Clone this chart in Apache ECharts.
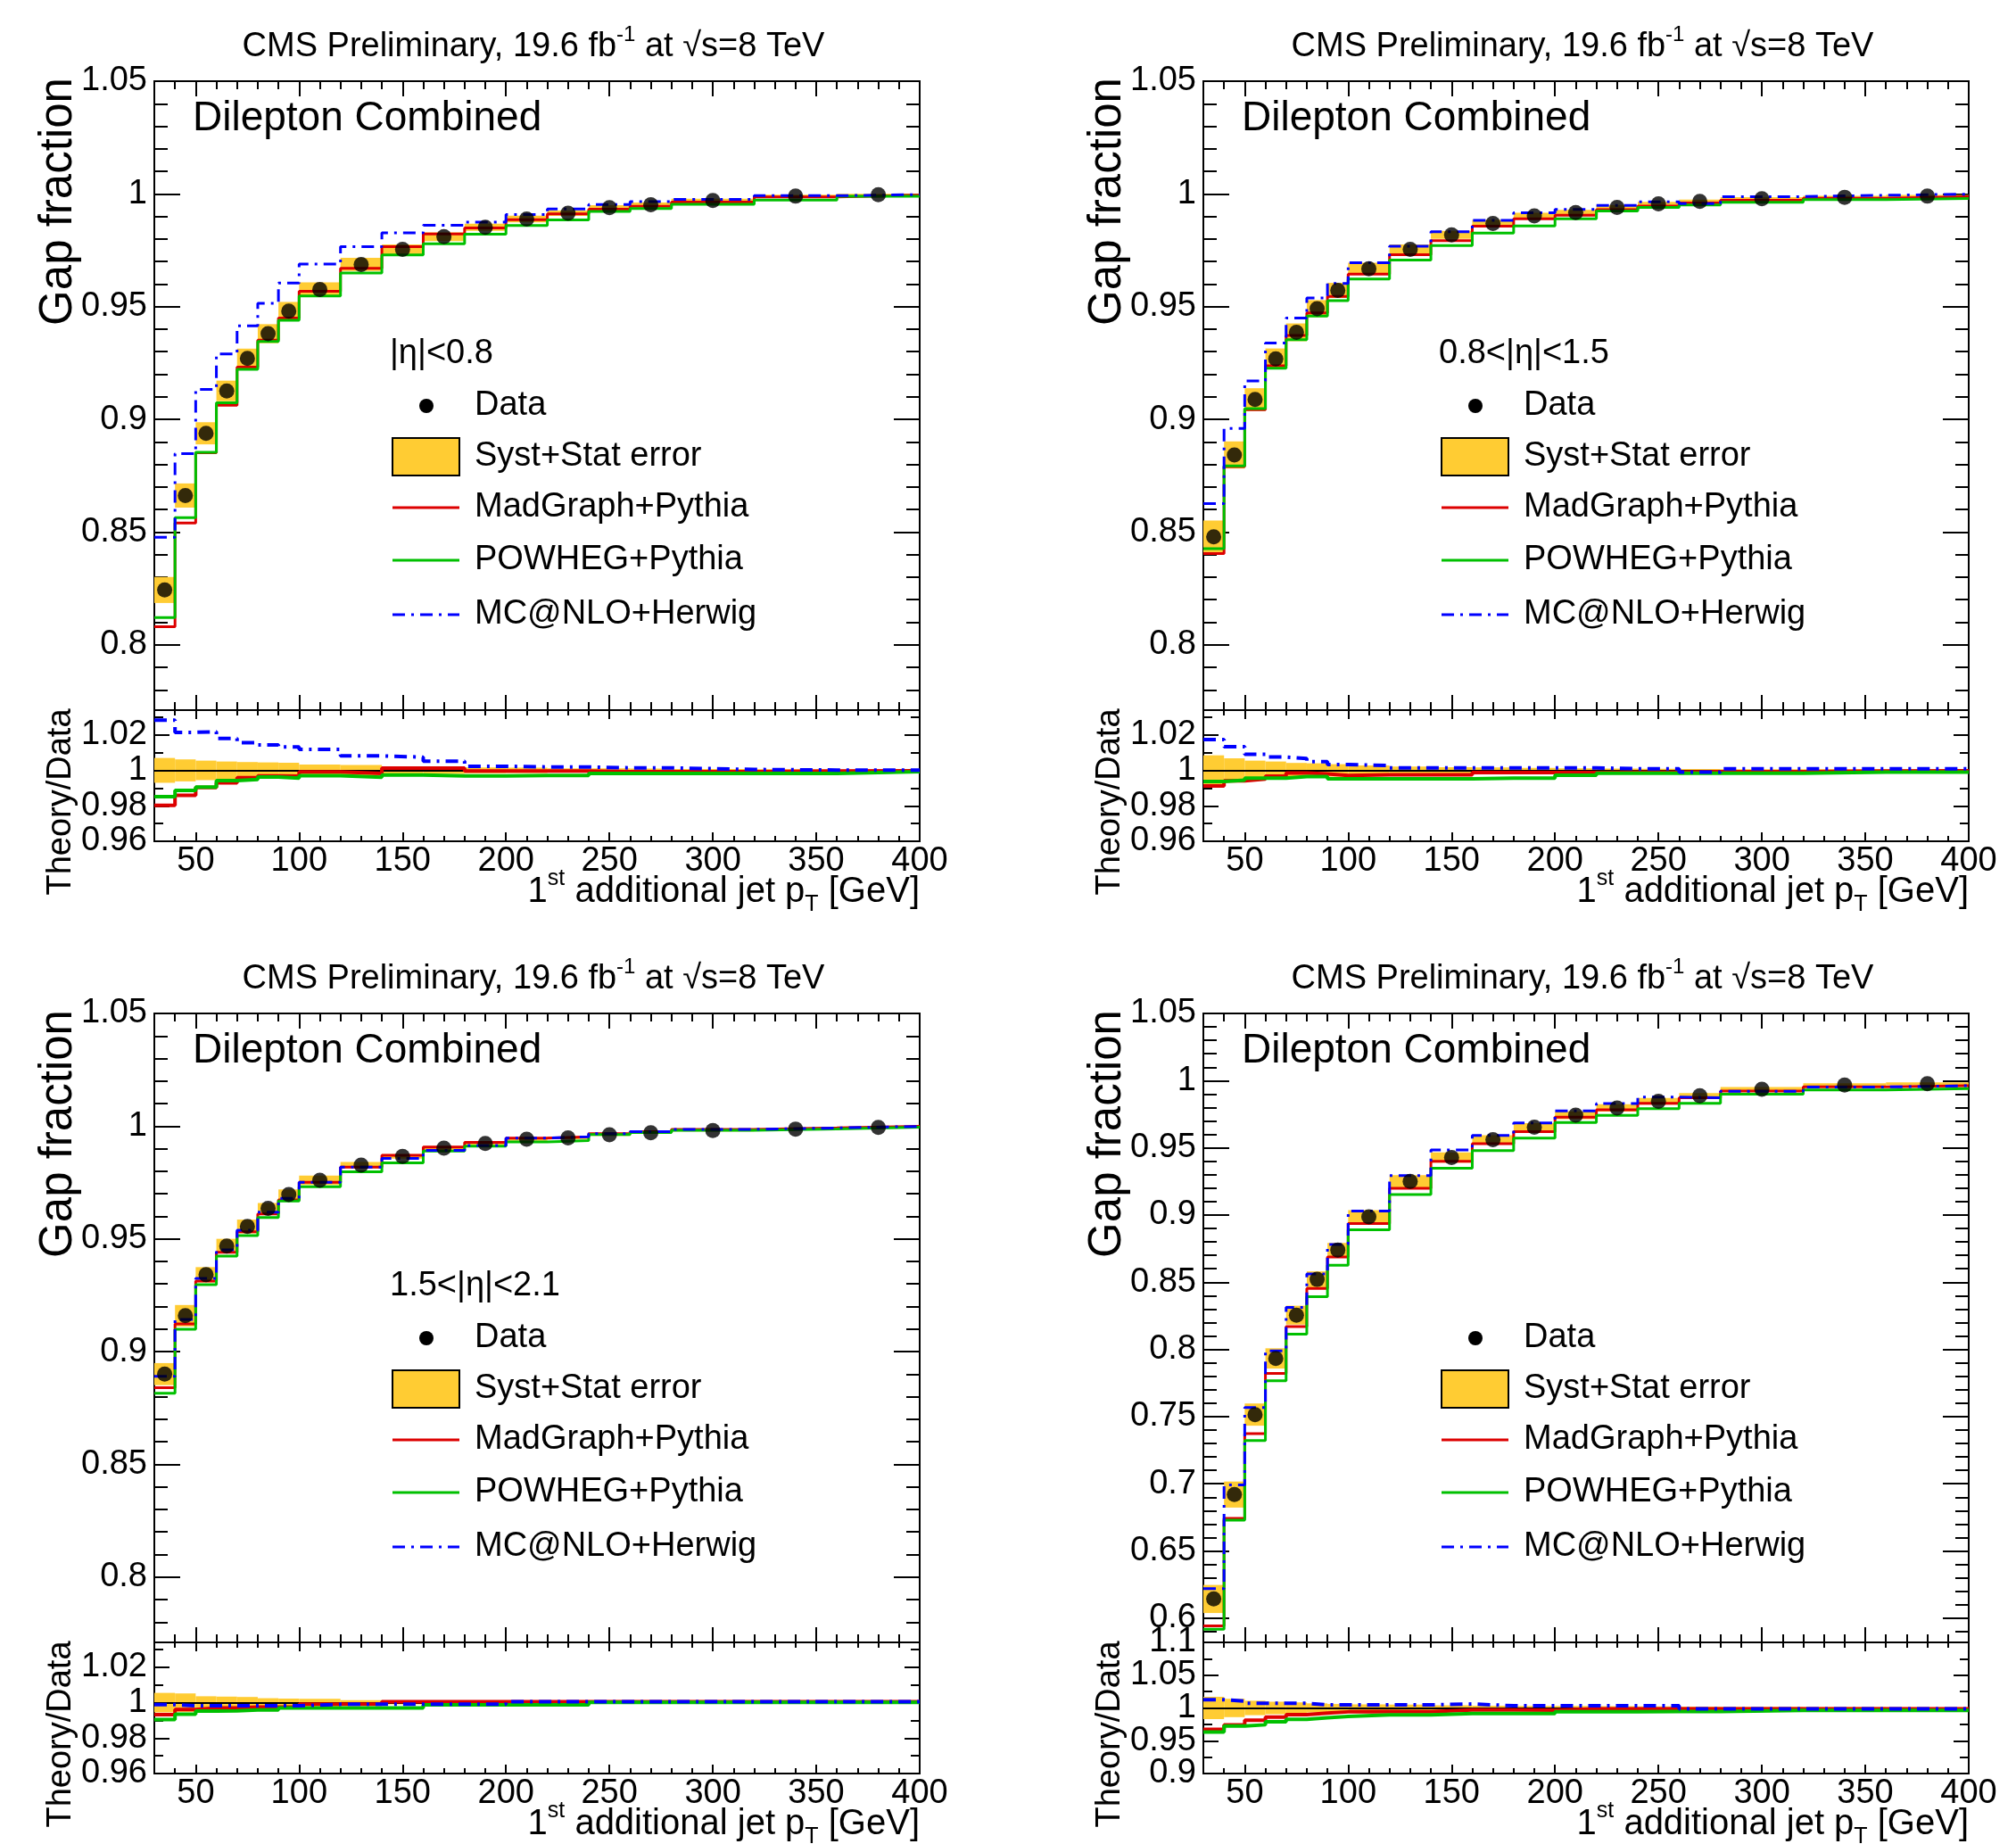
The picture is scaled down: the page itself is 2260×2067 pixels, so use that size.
<!DOCTYPE html>
<html lang="en">
<head>
<meta charset="utf-8">
<script src="https://cdn.jsdelivr.net/npm/echarts@6.0.0/dist/echarts.min.js"></script>
</head>
<body style="margin:0;background:#fff">
<div id="container" style="width:2260px;height:2067px"></div>
<script>
// bins of the 1st additional jet pT (GeV)
const binEdges = [30, 40, 50, 60, 70, 80, 90, 100, 120, 140, 160, 180, 200, 220, 240, 260, 280, 320, 360, 400];
const binCenters = [35, 45, 55, 65, 75, 85, 95, 110, 130, 150, 170, 190, 210, 230, 250, 270, 300, 340, 380];

const xTickLabels = [50, 100, 150, 200, 250, 300, 350, 400];
const mainTicksNarrow = [0.8, 0.85, 0.9, 0.95, 1, 1.05];
const mainTicksWide = [0.6, 0.65, 0.7, 0.75, 0.8, 0.85, 0.9, 0.95, 1, 1.05];
const ratioTicksNarrow = [0.96, 0.98, 1, 1.02];
const ratioTicksWide = [0.9, 0.95, 1, 1.05, 1.1];

const etaLabels = ['|η|<0.8', '0.8<|η|<1.5', '1.5<|η|<2.1', ''];
const legendNames = ['Data', 'Syst+Stat error', 'MadGraph+Pythia', 'POWHEG+Pythia', 'MC@NLO+Herwig'];

// |eta| < 0.8
const dataEta1     = [0.8243, 0.8662, 0.8938, 0.9126, 0.9270, 0.9380, 0.9480, 0.9576, 0.9687, 0.9754, 0.9810, 0.9852, 0.9889, 0.9914, 0.9939, 0.9952, 0.9971, 0.9990, 0.9996];
const madgraphEta1 = [0.8080, 0.8540, 0.8852, 0.9062, 0.9232, 0.9351, 0.9449, 0.9568, 0.9670, 0.9766, 0.9822, 0.9849, 0.9886, 0.9911, 0.9932, 0.9945, 0.9964, 0.9987, 0.9994];
const powhegEta1   = [0.8121, 0.8564, 0.8854, 0.9073, 0.9222, 0.9345, 0.9439, 0.9547, 0.9649, 0.9729, 0.9779, 0.9821, 0.9860, 0.9885, 0.9922, 0.9935, 0.9954, 0.9973, 0.9989];
const mcatnloEta1  = [0.8477, 0.8848, 0.9133, 0.9290, 0.9415, 0.9515, 0.9605, 0.9689, 0.9766, 0.9827, 0.9861, 0.9875, 0.9908, 0.9933, 0.9953, 0.9966, 0.9976, 0.9992, 0.9997];
const errEta1      = [0.0070, 0.0062, 0.0055, 0.0050, 0.0047, 0.0045, 0.0043, 0.0033, 0.0030, 0.0022, 0.0020, 0.0016, 0.0015, 0.0012, 0.0011, 0.0010, 0.0008, 0.0006, 0.0004];

// 0.8 < |eta| < 1.5
const dataEta2     = [0.8479, 0.8842, 0.9088, 0.9268, 0.9386, 0.9491, 0.9572, 0.9668, 0.9754, 0.9818, 0.9869, 0.9902, 0.9917, 0.9940, 0.9956, 0.9967, 0.9979, 0.9985, 0.9990];
const madgraphEta2 = [0.8405, 0.8790, 0.9043, 0.9238, 0.9372, 0.9472, 0.9545, 0.9644, 0.9730, 0.9793, 0.9857, 0.9890, 0.9905, 0.9930, 0.9946, 0.9960, 0.9972, 0.9981, 0.9988];
const powhegEta2   = [0.8426, 0.8793, 0.9048, 0.9227, 0.9353, 0.9458, 0.9526, 0.9622, 0.9707, 0.9771, 0.9826, 0.9858, 0.9890, 0.9924, 0.9940, 0.9951, 0.9963, 0.9975, 0.9980];
const mcatnloEta2  = [0.8626, 0.8960, 0.9170, 0.9338, 0.9449, 0.9538, 0.9603, 0.9695, 0.9768, 0.9832, 0.9883, 0.9916, 0.9931, 0.9949, 0.9965, 0.9957, 0.9988, 0.9994, 0.9999];
const errEta2      = [0.0085, 0.0068, 0.0055, 0.0050, 0.0042, 0.0040, 0.0035, 0.0028, 0.0022, 0.0018, 0.0016, 0.0014, 0.0012, 0.0010, 0.0009, 0.0008, 0.0007, 0.0006, 0.0005];

// 1.5 < |eta| < 2.1
const dataEta3     = [0.8900, 0.9159, 0.9341, 0.9468, 0.9555, 0.9635, 0.9697, 0.9760, 0.9827, 0.9866, 0.9902, 0.9923, 0.9942, 0.9948, 0.9962, 0.9971, 0.9981, 0.9987, 0.9994];
const madgraphEta3 = [0.8840, 0.9123, 0.9313, 0.9440, 0.9531, 0.9611, 0.9673, 0.9751, 0.9818, 0.9871, 0.9907, 0.9928, 0.9947, 0.9953, 0.9967, 0.9976, 0.9986, 0.9992, 0.9999];
const powhegEta3   = [0.8815, 0.9099, 0.9297, 0.9424, 0.9515, 0.9595, 0.9668, 0.9731, 0.9798, 0.9837, 0.9890, 0.9911, 0.9930, 0.9936, 0.9963, 0.9972, 0.9982, 0.9988, 0.9995];
const mcatnloEta3  = [0.8890, 0.9143, 0.9325, 0.9451, 0.9538, 0.9618, 0.9680, 0.9751, 0.9818, 0.9857, 0.9893, 0.9914, 0.9947, 0.9953, 0.9967, 0.9976, 0.9986, 0.9992, 0.9999];
const errEta3      = [0.0055, 0.0052, 0.0036, 0.0034, 0.0032, 0.0025, 0.0023, 0.0021, 0.0014, 0.0010, 0.0009, 0.0008, 0.0007, 0.0006, 0.0005, 0.0005, 0.0004, 0.0003, 0.0003];

// |eta| < 2.1 (no label)
const dataAll     = [0.6143, 0.6920, 0.7515, 0.7933, 0.8255, 0.8521, 0.8740, 0.8987, 0.9251, 0.9428, 0.9560, 0.9653, 0.9743, 0.9797, 0.9846, 0.9887, 0.9936, 0.9968, 0.9977];
const madgraphAll = [0.5942, 0.6742, 0.7374, 0.7822, 0.8170, 0.8453, 0.8688, 0.8937, 0.9199, 0.9400, 0.9530, 0.9621, 0.9729, 0.9783, 0.9832, 0.9873, 0.9922, 0.9954, 0.9963];
const powhegAll   = [0.5918, 0.6730, 0.7322, 0.7766, 0.8113, 0.8393, 0.8626, 0.8891, 0.9152, 0.9349, 0.9480, 0.9572, 0.9688, 0.9742, 0.9791, 0.9832, 0.9899, 0.9931, 0.9940];
const mcatnloAll  = [0.6220, 0.6991, 0.7568, 0.7989, 0.8313, 0.8561, 0.8781, 0.9029, 0.9294, 0.9485, 0.9592, 0.9685, 0.9775, 0.9829, 0.9878, 0.9872, 0.9921, 0.9953, 0.9962];
const errAll      = [0.0170, 0.0140, 0.0110, 0.0095, 0.0085, 0.0070, 0.0060, 0.0055, 0.0050, 0.0040, 0.0035, 0.0032, 0.0030, 0.0028, 0.0025, 0.0020, 0.0016, 0.0013, 0.0010];

const FONT = 'Liberation Sans';
const RED = '#dd0000', GREEN = '#00c000', BLUE = '#0000ff', YELLOW = '#ffcc33';
const DASHDOT = [14, 7, 3, 7];
const FRAME_W = 858, MAIN_H = 705, RATIO_H = 147;

function range(a, b, s) {
  const out = [];
  for (let v = a; v <= b + 1e-9; v += s) out.push(Math.round(v * 1e4) / 1e4);
  return out;
}
function fmt(v) { return String(Math.round(v * 1000) / 1000); }

const xMinorTicks = range(30, 400, 10);

const panels = [
  { data: dataEta1, mg: madgraphEta1, pw: powhegEta1, mc: mcatnloEta1, err: errEta1, eta: etaLabels[0], dx: 0, dy: 0,
    main: [0.771, 1.05, mainTicksNarrow, range(0.78, 1.05, 0.01)], ratio: [0.96, 1.034, ratioTicksNarrow, range(0.96, 1.03, 0.01)], split: false },
  { data: dataEta2, mg: madgraphEta2, pw: powhegEta2, mc: mcatnloEta2, err: errEta2, eta: etaLabels[1], dx: 1176, dy: 0,
    main: [0.771, 1.05, mainTicksNarrow, range(0.78, 1.05, 0.01)], ratio: [0.96, 1.034, ratioTicksNarrow, range(0.96, 1.03, 0.01)], split: false },
  { data: dataEta3, mg: madgraphEta3, pw: powhegEta3, mc: mcatnloEta3, err: errEta3, eta: etaLabels[2], dx: 0, dy: 1045,
    main: [0.771, 1.05, mainTicksNarrow, range(0.78, 1.05, 0.01)], ratio: [0.96, 1.034, ratioTicksNarrow, range(0.96, 1.03, 0.01)], split: false },
  { data: dataAll, mg: madgraphAll, pw: powhegAll, mc: mcatnloAll, err: errAll, eta: etaLabels[3], dx: 1176, dy: 1045,
    main: [0.582, 1.05, mainTicksWide, range(0.59, 1.05, 0.01)], ratio: [0.9, 1.1, ratioTicksWide, range(0.9, 1.1, 0.025)], split: true }
];

const grid = [], xAxis = [], yAxis = [], series = [], graphic = [];

function axisDef(g, pos, min, max, ticks, len, labelVals) {
  const label = labelVals ? {
    show: true, customValues: labelVals, interval: 0, fontFamily: FONT, fontSize: 38, color: '#000',
    showMinLabel: true, showMaxLabel: true, hideOverlap: false,
    margin: pos === 'left' ? 8 : 4, formatter: fmt
  } : { show: false };
  return {
    type: 'value', gridIndex: g, position: pos, min: min, max: max,
    axisLine: { show: false, onZero: false },
    splitLine: { show: false },
    axisTick: { show: true, inside: true, length: len, customValues: ticks, lineStyle: { color: '#000', width: 2 } },
    axisLabel: label
  };
}

// frame = grid with inward major/minor ticks on all four sides
function frame(left, top, height, yMin, yMax, yMajor, yMinor, t, xLabels, split) {
  const g = grid.length;
  grid.push({ left: left, top: top, width: FRAME_W, height: height, show: true,
    borderColor: '#000', borderWidth: 2, backgroundColor: 'transparent', outerBoundsMode: 'none' });
  const xi = xAxis.length, yi = yAxis.length;
  // crowded label sets are shared between two axes so none of them gets skipped
  const labA = split ? yMajor.filter((v, i) => i % 2 === 0) : yMajor;
  const labB = split ? yMajor.filter((v, i) => i % 2 === 1) : null;
  xAxis.push(
    axisDef(g, 'bottom', 30, 400, xTickLabels, t[0], xLabels ? xTickLabels : null),
    axisDef(g, 'bottom', 30, 400, xMinorTicks, t[1], null),
    axisDef(g, 'top', 30, 400, xTickLabels, t[0], null),
    axisDef(g, 'top', 30, 400, xMinorTicks, t[1], null)
  );
  yAxis.push(
    axisDef(g, 'left', yMin, yMax, yMajor, t[2], labA),
    axisDef(g, 'left', yMin, yMax, yMinor, t[3], labB),
    axisDef(g, 'right', yMin, yMax, yMajor, t[2], null),
    axisDef(g, 'right', yMin, yMax, yMinor, t[3], null)
  );
  return { xAxisIndex: xi, yAxisIndex: yi };
}

function boxes(ax, rows, z, extra) {
  return Object.assign({
    type: 'custom', xAxisIndex: ax.xAxisIndex, yAxisIndex: ax.yAxisIndex, z: z, silent: true,
    encode: { x: [0, 1], y: [2, 3] },
    data: rows,
    renderItem: function (params, api) {
      const p0 = api.coord([api.value(0), api.value(3)]);
      const p1 = api.coord([api.value(1), api.value(2)]);
      return { type: 'rect', shape: { x: p0[0], y: p1[1], width: p1[0] - p0[0], height: p0[1] - p1[1] },
        style: { fill: YELLOW } };
    }
  }, extra || {});
}

function steps(ax, vals, color, width, dashed, z) {
  const pts = binEdges.map((x, i) => [x, vals[Math.min(i, vals.length - 1)]]);
  return {
    type: 'line', step: 'end', xAxisIndex: ax.xAxisIndex, yAxisIndex: ax.yAxisIndex, z: z,
    data: pts, showSymbol: false, silent: true,
    lineStyle: { color: color, width: width, type: dashed ? DASHDOT : 'solid' }
  };
}

function text(str, x, y, size, align, extra) {
  return Object.assign({
    type: 'text', x: x, y: y, z: 100, silent: true,
    style: { text: str, font: size + 'px "' + FONT + '"', fill: '#000',
      textAlign: align, align: align, textVerticalAlign: 'middle', verticalAlign: 'middle' }
  }, extra || {});
}

function richText(str, x, y, size, align) {
  const small = Math.round(size * 0.62);
  const rich = {
    n: { fontFamily: FONT, fontSize: size, lineHeight: size * 1.35, color: '#000' },
    sup: { fontFamily: FONT, fontSize: small, lineHeight: small, verticalAlign: 'top', color: '#000' },
    sub: { fontFamily: FONT, fontSize: small, lineHeight: small, verticalAlign: 'bottom', color: '#000' }
  };
  return {
    type: 'text', x: x, y: y, z: 100, silent: true,
    style: { text: str, rich: rich, textAlign: align, align: align, textVerticalAlign: 'middle', verticalAlign: 'middle' }
  };
}

panels.forEach(function (p) {
  const left = 173 + p.dx;
  const mainTop = 91 + p.dy;
  const ratioTop = mainTop + MAIN_H;

  const axMain = frame(left, mainTop, MAIN_H, p.main[0], p.main[1], p.main[2], p.main[3], [17, 9, 29, 15], false, false);
  const axRatio = frame(left, ratioTop, RATIO_H, p.ratio[0], p.ratio[1], p.ratio[2], p.ratio[3], [10, 6, 17, 10], true, p.split);

  // main pad
  series.push(boxes(axMain, p.data.map((d, i) => [binEdges[i], binEdges[i + 1], d * (1 + p.err[i]), d * (1 - p.err[i])]), 1));
  series.push(steps(axMain, p.mg, RED, 3, false, 3));
  series.push(steps(axMain, p.pw, GREEN, 3, false, 4));
  series.push(steps(axMain, p.mc, BLUE, 3, true, 5));
  series.push({
    type: 'scatter', xAxisIndex: axMain.xAxisIndex, yAxisIndex: axMain.yAxisIndex, z: 6, silent: true,
    symbol: 'circle', symbolSize: 17, itemStyle: { color: '#000' },
    data: binCenters.map((x, i) => [x, p.data[i]])
  });

  // ratio pad
  series.push(boxes(axRatio, p.err.map((e, i) => [binEdges[i], binEdges[i + 1], 1 + e, 1 - e]), 1, {
    markLine: { silent: true, symbol: 'none', label: { show: false }, z: 2,
      lineStyle: { color: '#000', width: 2, type: 'solid' }, data: [{ yAxis: 1 }] }
  }));
  series.push(steps(axRatio, p.mg.map((v, i) => v / p.data[i]), RED, 4, false, 3));
  series.push(steps(axRatio, p.pw.map((v, i) => v / p.data[i]), GREEN, 4, false, 4));
  series.push(steps(axRatio, p.mc.map((v, i) => v / p.data[i]), BLUE, 4, true, 5));

  // texts
  graphic.push(richText('{n|CMS Preliminary, 19.6 fb}{sup|-1}{n| at √s=8 TeV}', 598 + p.dx, 53 + p.dy, 38, 'center'));
  graphic.push(text('Dilepton Combined', 216 + p.dx, 133 + p.dy, 46, 'left'));
  graphic.push(text('Gap fraction', 66 + p.dx, 226 + p.dy, 51, 'center', { rotation: Math.PI / 2 }));
  graphic.push(text('Theory/Data', 69 + p.dx, 899 + p.dy, 38, 'center', { rotation: Math.PI / 2 }));
  graphic.push(richText('{n|1}{sup|st}{n| additional jet p}{sub|T}{n| [GeV]}', 1031 + p.dx, 1000 + p.dy, 40, 'right'));
  if (p.eta) graphic.push(text(p.eta, 437 + p.dx, 397 + p.dy, 38, 'left'));

  // legend
  const rows = [455, 512, 569, 628, 689].map(r => r + p.dy);
  const lx = 440 + p.dx;
  graphic.push({ type: 'circle', z: 100, silent: true, shape: { cx: 478 + p.dx, cy: rows[0], r: 8 }, style: { fill: '#000' } });
  graphic.push({ type: 'rect', z: 100, silent: true, shape: { x: lx, y: rows[1] - 21, width: 75, height: 42 },
    style: { fill: YELLOW, stroke: '#000', lineWidth: 2 } });
  [RED, GREEN, BLUE].forEach(function (c, k) {
    graphic.push({ type: 'line', z: 100, silent: true, shape: { x1: lx, y1: rows[k + 2], x2: lx + 75, y2: rows[k + 2] },
      style: { stroke: c, lineWidth: 3, lineDash: k === 2 ? DASHDOT : null } });
  });
  legendNames.forEach(function (name, k) {
    graphic.push(text(name, 532 + p.dx, rows[k], 38, 'left'));
  });
});

const chart = echarts.init(document.getElementById('container'), null, { renderer: 'canvas' });
chart.setOption({
  backgroundColor: '#fff',
  animation: false,
  grid: grid,
  xAxis: xAxis,
  yAxis: yAxis,
  series: series,
  graphic: { elements: graphic }
});
window.addEventListener('resize', chart.resize);
</script>
</body>
</html>
